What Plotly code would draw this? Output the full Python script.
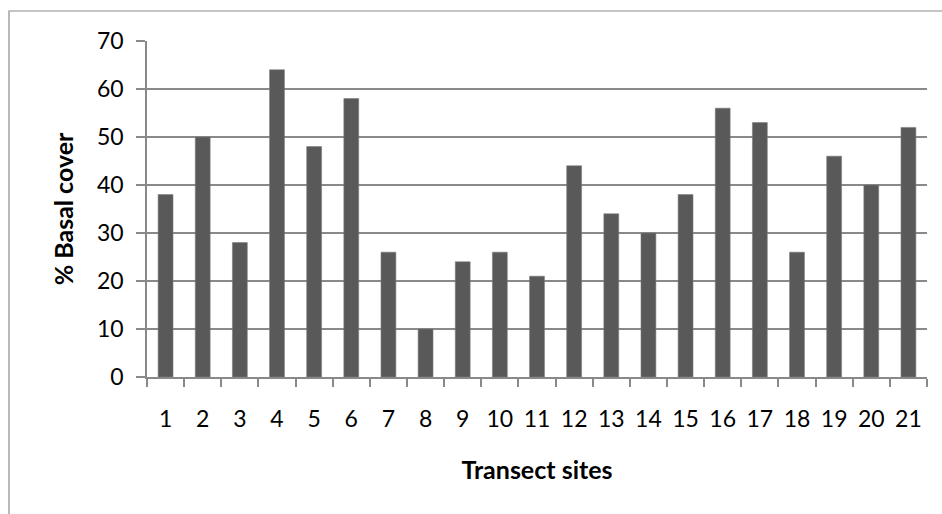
import plotly.graph_objects as go

# Percentage basal cover recorded at each transect site
sites = [str(i) for i in range(1, 22)]
basal_cover = [38, 50, 28, 64, 48, 58, 26, 10, 24, 26, 21, 44, 34, 30, 38, 56, 53, 26, 46, 40, 52]
y_ticks = [0, 10, 20, 30, 40, 50, 60, 70]

W, H = 942, 514
L, R, T, B = 147, 15, 41, 137
pw, ph = W - L - R, H - T - B

font_family = "Lato, 'Open Sans', sans-serif"
axis_grey = "#898989"

fig = go.Figure(
    go.Bar(
        x=sites,
        y=basal_cover,
        marker=dict(color="#595959", line=dict(color="#7a7a7a", width=0.6)),
        hoverinfo="x+y",
    )
)

fig.update_layout(
    width=W,
    height=H,
    margin=dict(l=L, r=R, t=T, b=B),
    paper_bgcolor="white",
    plot_bgcolor="white",
    bargap=0.6,
    showlegend=False,
    font=dict(family=font_family, size=23, color="#000000"),
)

fig.update_xaxes(
    type="category",
    showline=True,
    linecolor=axis_grey,
    linewidth=1.5,
    ticks="outside",
    ticklen=8,
    tickwidth=1.5,
    tickcolor=axis_grey,
    tickson="boundaries",
    showgrid=False,
    ticklabelstandoff=21,
    tickfont=dict(size=23),
    title=dict(text="<b>Transect sites</b>", font=dict(size=25), standoff=30),
)

fig.update_yaxes(
    range=[0, 70],
    tickvals=y_ticks,
    showline=True,
    linecolor=axis_grey,
    linewidth=1.5,
    ticks="outside",
    ticklen=9,
    tickwidth=1.5,
    tickcolor=axis_grey,
    showgrid=True,
    gridcolor=axis_grey,
    gridwidth=1.5,
    zeroline=False,
    ticklabelstandoff=8,
    tickfont=dict(size=23),
    title=dict(text="<b>% Basal cover</b>", font=dict(size=25), standoff=16),
)

# Thin frame around the whole chart area
fig.add_shape(
    type="rect",
    xref="paper",
    yref="paper",
    x0=(9 - L) / pw,
    x1=(W + 4 - L) / pw,
    y0=-(H + 4 - (H - B)) / ph,
    y1=1 + (T - 11) / ph,
    line=dict(color="#8c8c8c", width=1.2),
    layer="below",
)

fig.write_html("out.html")
